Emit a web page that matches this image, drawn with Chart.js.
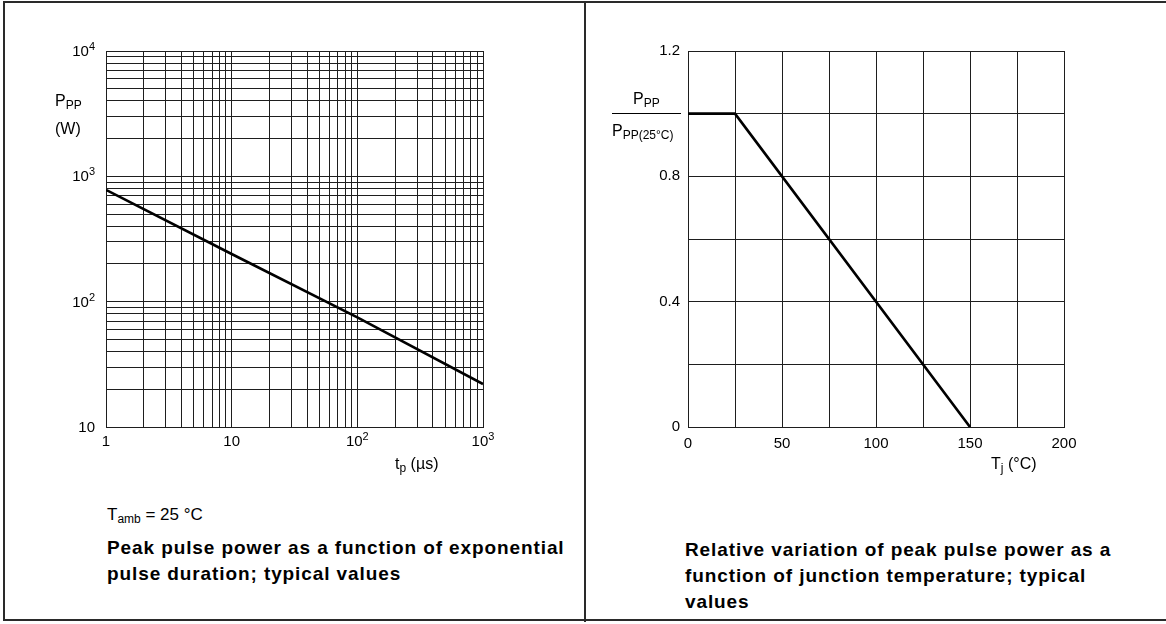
<!DOCTYPE html>
<html>
<head>
<meta charset="utf-8">
<script src="https://cdn.jsdelivr.net/npm/chart.js@4.4.0/dist/chart.umd.min.js"></script>
<style>
  body { margin: 0; background: #fff; font-family: "Liberation Sans", Arial, sans-serif; color: #000; }
  #page { position: relative; width: 1166px; height: 624px; overflow: hidden; }
  #frame { position: absolute; left: 3px; top: 1px; width: 1170px; height: 620px; border-top: 2px solid #2a2a2a; border-left: 2px solid #2a2a2a; border-bottom: 2px solid #2a2a2a; box-sizing: border-box; }
  #divider { position: absolute; left: 584px; top: 2px; width: 2px; height: 620px; background: #2a2a2a; }
  canvas { position: absolute; top: 0; }
  .lbl { position: absolute; white-space: nowrap; font-size: 16px; line-height: 18px; }
  .lbl sub { font-size: 12px; vertical-align: -3px; line-height: 0; }
  .tick { position: absolute; white-space: nowrap; font-size: 15px; line-height: 18px; }
  .tick sup { font-size: 11px; vertical-align: 6px; line-height: 0; }
  .cap { position: absolute; white-space: nowrap; font-size: 19px; letter-spacing: 0.9px; font-weight: bold; line-height: 26px; }
</style>
</head>
<body>
<div id="page">
  <div id="frame"></div>
  <div id="divider"></div>
  <canvas id="chartLeft" width="540" height="480" style="left:0px"></canvas>
  <canvas id="chartRight" width="540" height="480" style="left:585px"></canvas>

  <div class="lbl" style="left:55px; top:92px">P<sub>PP</sub></div>
  <div class="lbl" style="left:55px; top:120px">(W)</div>
  <div class="lbl" style="left:395px; top:455px">t<sub>p</sub> (µs)</div>

  <div class="lbl" style="left:633px; top:90px">P<sub>PP</sub></div>
  <div style="position:absolute; left:612px; top:113px; width:69px; height:1px; background:#000"></div>
  <div class="lbl" style="left:612px; top:122px">P<sub>PP(25°C)</sub></div>
  <div class="lbl" style="left:991px; top:455px">T<sub>j</sub> (°C)</div>

  <div class="lbl" style="left:107px; top:506px; font-size:17px">T<sub>amb</sub> = 25 °C</div>
  <div class="cap" style="left:107px; top:535px">Peak pulse power as a function of exponential<br>pulse duration; typical values</div>
  <div class="cap" style="left:685px; top:537px">Relative variation of peak pulse power as a<br>function of junction temperature; typical<br>values</div>
</div>

<script>
// left chart: peak pulse power vs pulse duration (log-log)
const tpValues = [1, 10, 100, 1000];
const ppValues = [780, 240, 75, 22];
const tpTicks = [1, 2, 3, 4, 5, 6, 7, 8, 9, 10, 20, 30, 40, 50, 60, 70, 80, 90, 100, 200, 300, 400, 500, 600, 700, 800, 900, 1000];
const ppTicks = [10, 20, 30, 40, 50, 60, 70, 80, 90, 100, 200, 300, 400, 500, 600, 700, 800, 900, 1000, 2000, 3000, 4000, 5000, 6000, 7000, 8000, 9000, 10000];
const tpLabels = { 1: "1", 10: "10", 100: "10<sup>2</sup>", 1000: "10<sup>3</sup>" };
const ppLabels = { 10: "10", 100: "10<sup>2</sup>", 1000: "10<sup>3</sup>", 10000: "10<sup>4</sup>" };

// right chart: relative peak pulse power vs junction temperature
const tjValues = [0, 25, 150];
const ratioValues = [1, 1, 0];
const tjTicks = [0, 25, 50, 75, 100, 125, 150, 175, 200];
const tjLabels = ["0", "", "50", "", "100", "", "150", "", "200"];
const ratioTicks = [0, 0.2, 0.4, 0.6, 0.8, 1.0, 1.2];
const ratioLabels = ["0", "", "0.4", "", "0.8", "", "1.2"];

Chart.defaults.font.family = "'Liberation Sans', Arial, sans-serif";
Chart.defaults.font.size = 15;
Chart.defaults.color = "#000";

const gridStyle = { color: "#1e1e1e", lineWidth: 1, drawTicks: false };
const borderStyle = { color: "#1e1e1e", width: 1 };

function fixedTicks(list) {
    return scale => { scale.ticks = list.map(v => ({ value: v })); };
}

const leftChart = new Chart(document.getElementById("chartLeft"), {
    type: "line",
    data: {
        datasets: [{
            data: tpValues.map((t, i) => ({ x: t, y: ppValues[i] })),
            borderColor: "#000",
            borderWidth: 2.6,
            pointRadius: 0,
            tension: 0
        }]
    },
    options: {
        responsive: false,
        animation: false,
        events: [],
        layout: { padding: { top: 51, right: 57, bottom: 0, left: 0 } },
        plugins: { legend: { display: false }, tooltip: { enabled: false } },
        scales: {
            x: {
                type: "logarithmic", min: 1, max: 1000,
                afterBuildTicks: fixedTicks(tpTicks),
                afterFit: scale => { scale.height = 53; },
                grid: gridStyle, border: borderStyle,
                ticks: { display: false }
            },
            y: {
                type: "logarithmic", min: 10, max: 10000,
                afterBuildTicks: fixedTicks(ppTicks),
                afterFit: scale => { scale.width = 106; },
                grid: gridStyle, border: borderStyle,
                ticks: { display: false }
            }
        }
    }
});

// decade labels with real superscripts, placed through the chart's own scales
const page = document.getElementById("page");
function addTick(html, x, y, shift) {
    const d = document.createElement("div");
    d.className = "tick";
    d.innerHTML = html;
    d.style.left = x + "px";
    d.style.top = y + "px";
    d.style.transform = shift;
    page.appendChild(d);
}
Object.keys(tpLabels).forEach(v => {
    const sx = leftChart.scales.x;
    addTick(tpLabels[v], sx.getPixelForValue(+v), sx.top + 5, "translateX(-50%)");
});
Object.keys(ppLabels).forEach(v => {
    const sy = leftChart.scales.y;
    addTick(ppLabels[v], sy.right - 11, sy.getPixelForValue(+v), "translate(-100%, -50%)");
});

new Chart(document.getElementById("chartRight"), {
    type: "line",
    data: {
        datasets: [{
            data: tjValues.map((t, i) => ({ x: t, y: ratioValues[i] })),
            borderColor: "#000",
            borderWidth: 2.6,
            pointRadius: 0,
            tension: 0
        }]
    },
    options: {
        responsive: false,
        animation: false,
        events: [],
        layout: { padding: { top: 51, right: 61, bottom: 0, left: 0 } },
        plugins: { legend: { display: false }, tooltip: { enabled: false } },
        scales: {
            x: {
                type: "linear", min: 0, max: 200,
                afterBuildTicks: fixedTicks(tjTicks),
                afterFit: scale => { scale.height = 53; },
                grid: gridStyle, border: borderStyle,
                ticks: { autoSkip: false, maxRotation: 0, padding: 8, callback: (v, i) => tjLabels[i] }
            },
            y: {
                type: "linear", min: 0, max: 1.2,
                afterBuildTicks: fixedTicks(ratioTicks),
                afterFit: scale => { scale.width = 103; },
                grid: gridStyle, border: borderStyle,
                ticks: { autoSkip: false, padding: 8, callback: (v, i) => ratioLabels[i] }
            }
        }
    }
});
</script>
</body>
</html>
